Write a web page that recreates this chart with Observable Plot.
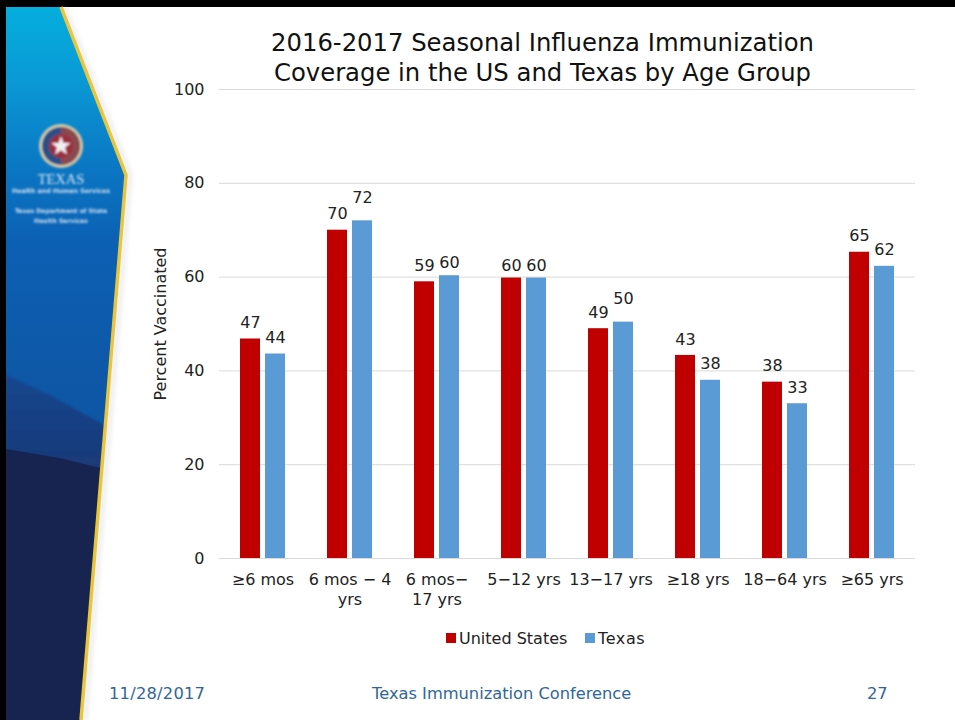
<!DOCTYPE html>
<html><head><meta charset="utf-8">
<script src="https://cdn.jsdelivr.net/npm/d3@7"></script>
<script src="https://cdn.jsdelivr.net/npm/@observablehq/plot@0.6"></script>
<style>
html,body{margin:0;padding:0;background:#fff;overflow:hidden}
#stage{position:relative;width:955px;height:720px;font-family:"DejaVu Sans",Verdana,sans-serif}
#deco,#chart{position:absolute;left:0;top:0}
#chart svg{display:block;background:transparent;}
.abs{position:absolute;white-space:nowrap}
.title{left:130px;width:825px;top:28px;text-align:center;font-size:24.3px;line-height:29.5px;color:#111}
.foot{top:684px;font-size:16.25px;color:#2f6699}
.leg{top:629px;font-size:16px;color:#222}
.sw{position:absolute;top:633px;width:10px;height:10px}
</style></head><body>
<div id="stage">
<svg id="deco" width="955" height="720" xmlns="http://www.w3.org/2000/svg">
<defs>
<linearGradient id="pg" x1="0" y1="0" x2="0" y2="1">
<stop offset="0" stop-color="#05aedd"/><stop offset=".1" stop-color="#0a9ad6"/>
<stop offset=".22" stop-color="#0a78c4"/><stop offset=".33" stop-color="#0c60b4"/>
<stop offset=".5" stop-color="#0e58a8"/><stop offset="1" stop-color="#0e4f98"/>
</linearGradient>
<linearGradient id="fg" x1="0" y1="0" x2="0" y2="1">
<stop offset="0" stop-color="#14478f"/><stop offset="1" stop-color="#1c3672"/>
</linearGradient>
<clipPath id="pc"><polygon points="6,7 60,7 125,175 80,720 6,720"/></clipPath>
<filter id="b1"><feGaussianBlur stdDeviation="0.8"/></filter>
<filter id="b2"><feGaussianBlur stdDeviation="2.5"/></filter>
<filter id="b3"><feGaussianBlur stdDeviation="1.2"/></filter>
</defs>
<rect x="0" y="0" width="955" height="7" fill="#000"/>
<rect x="0" y="0" width="6" height="720" fill="#000"/>
<polyline points="64,7 130,175 85,720" fill="none" stroke="#aaa" stroke-width="3" opacity=".35" filter="url(#b2)"/>
<polygon points="6,7 60,7 125,175 80,720 6,720" fill="url(#pg)"/>
<g clip-path="url(#pc)">
<polygon points="0,372 50,395 140,445 140,490 0,450" fill="url(#fg)" filter="url(#b3)"/>
<polygon points="0,448 60,458 140,478 140,720 0,720" fill="#16244f"/>
</g>
<polyline points="61,7 126,175 81,720" fill="none" stroke="#e8c53a" stroke-width="3.500"/>
<g filter="url(#b1)">
<circle cx="61" cy="146" r="22" fill="#d8c9a8"/>
<circle cx="61" cy="146" r="19" fill="#2a4f88"/>
<path d="M61 127a19 19 0 0 1 0 38z" fill="#8a4a50"/>
<circle cx="61" cy="146" r="12" fill="#9c2f3c"/>
<path d="M61 136l2.500 7h7l-5.500 4.500 2 7-6-4.300-6 4.300 2-7-5.500-4.500h7z" fill="#f2eef2"/>
<text x="61" y="184" text-anchor="middle" font-size="14.500" font-family="Liberation Serif" fill="#d8e4f0">TEXAS</text>
<text x="61" y="193" text-anchor="middle" font-size="6.300" font-weight="bold" fill="#d0e0f0">Health and Human Services</text>
<text x="61" y="213" text-anchor="middle" font-size="6.100" font-weight="bold" fill="#d0e0f0">Texas Department of State</text>
<text x="61" y="223" text-anchor="middle" font-size="6.100" font-weight="bold" fill="#d0e0f0">Health Services</text>
</g>
</svg>
<div id="chart"></div>
<div class="abs title">2016-2017 Seasonal Influenza Immunization<br>Coverage in the US and Texas by Age Group</div>
<div class="sw" style="left:446px;background:#c00000"></div><div class="abs leg" style="left:459px">United States</div>
<div class="sw" style="left:585px;background:#5b9bd5"></div><div class="abs leg" style="left:598px;letter-spacing:.6px">Texas</div>
<div class="abs foot" style="left:109px;letter-spacing:.25px">11/28/2017</div>
<div class="abs foot" style="left:372px">Texas Immunization Conference</div>
<div class="abs foot" style="left:867px">27</div>
</div>
<script>
const ageGroups = ["≥6 mos","6 mos − 4\nyrs","6 mos−\n17 yrs","5−12 yrs","13−17 yrs","≥18 yrs","18−64 yrs","≥65 yrs"];
const usValues = [46.8,70,59,59.8,49,43.3,37.6,65.3];
const txValues = [43.6,72,60.3,59.8,50.4,38,33,62.3];
const usLabels = ["47","70","59","60","49","43","38","65"];
const txLabels = ["44","72","60","60","50","38","33","62"];
const seriesNames = ["United States","Texas"];
const seriesColors = ["#c00000","#5b9bd5"];
const yTicks = [0,20,40,60,80,100];

const rows = ageGroups.flatMap((age,i)=>[
  {age,series:seriesNames[0],value:usValues[i],label:usLabels[i]},
  {age,series:seriesNames[1],value:txValues[i],label:txLabels[i]}
]);
// The reference lifts a few data labels clear of their neighbours.
const isRaised = d => d.series === "Texas" && (d.label === "72" || d.label === "50");
const isLowered = d => d.value === 59.8 || (d.series === "Texas" && d.label === "60");
const isPlain = d => !isRaised(d) && !isLowered(d);
const labelStyle = {fx:"age",x:"series",y:"value",text:"label",fontSize:16,fill:"#222"};
const font = '"DejaVu Sans",Verdana,sans-serif';
const plot = Plot.plot({
  width:955,height:720,
  marginLeft:219,marginRight:40,marginTop:89,marginBottom:162,
  style:{background:"transparent",fontFamily:font,fontSize:"16px",color:"#222"},
  fx:{domain:ageGroups,padding:0,label:null},
  x:{domain:seriesNames,paddingInner:0.2,paddingOuter:0.84,axis:null},
  y:{domain:[0,100],label:null},
  color:{domain:seriesNames,range:seriesColors},
  marks:[
    Plot.ruleY(yTicks,{stroke:"#d9d9d9",strokeWidth:1}),
    Plot.axisY({ticks:yTicks,tickSize:0,tickPadding:15,fontSize:16,label:"Percent Vaccinated",labelAnchor:"center",labelArrow:"none",labelOffset:65}),
    Plot.axisFx({anchor:"bottom",tickSize:0,tickPadding:12,fontSize:16,lineHeight:1.25,label:null,textOverflow:null}),
    Plot.barY(rows,{fx:"age",x:"series",y:"value",fill:"series"}),
    Plot.text(rows,{...labelStyle,filter:isPlain,dy:-16}),
    Plot.text(rows,{...labelStyle,filter:isRaised,dy:-23}),
    Plot.text(rows,{...labelStyle,filter:isLowered,dy:-12.5})
  ]
});
document.getElementById("chart").appendChild(plot);
</script>
</body></html>
